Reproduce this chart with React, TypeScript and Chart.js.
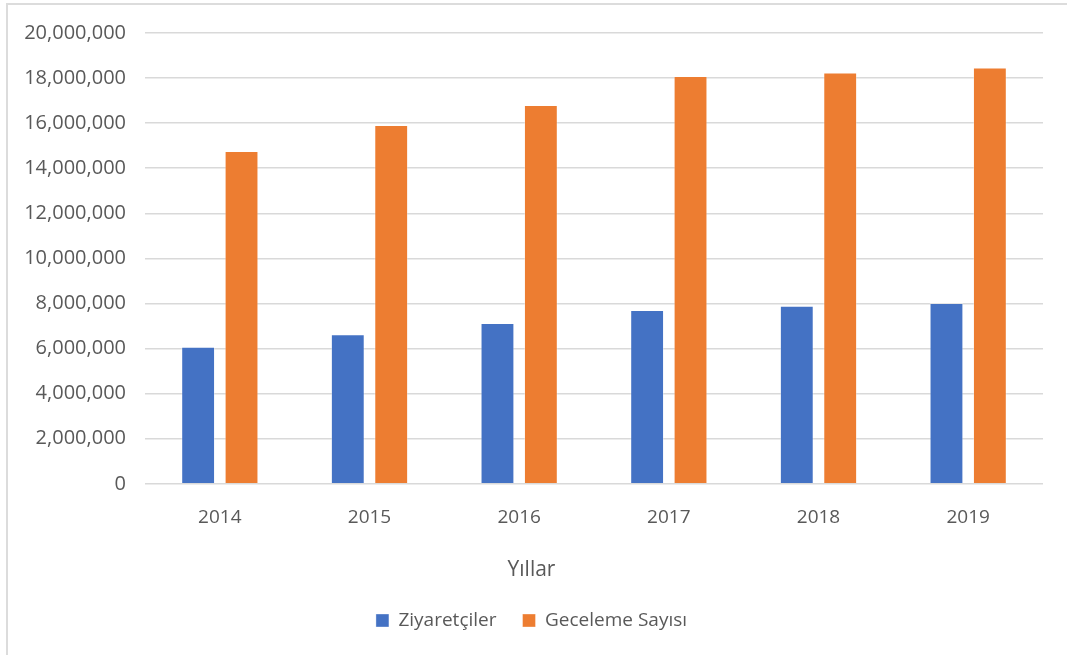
import React, { useEffect, useRef } from "react";
import { Chart, registerables } from "chart.js";

Chart.register(...registerables);

const years = ["2014", "2015", "2016", "2017", "2018", "2019"];
const visitors = [6080000, 6640000, 7130000, 7710000, 7900000, 8020000];
const overnights = [14760000, 15920000, 16810000, 18090000, 18250000, 18470000];
const seriesNames = ["Ziyaretçiler", "Geceleme Sayısı"];
const axisTitle = "Yıllar";
const yMax = 20000000;
const yStep = 2000000;

const FONT = "'Open Sans', 'Noto Sans', sans-serif";
const TEXT = "#595959";

export default function App() {
  const ref = useRef<HTMLCanvasElement | null>(null);

  useEffect(() => {
    document.body.style.margin = "0";
    const canvas = ref.current;
    if (!canvas) return;
    const chart = new Chart(canvas, {
      type: "bar",
      data: {
        labels: years,
        datasets: [
          {
            label: seriesNames[0],
            data: visitors,
            backgroundColor: "#4472C4",
            borderColor: "rgba(255,255,255,0.35)",
            borderWidth: 1,
            categoryPercentage: 0.58,
            barPercentage: 0.78,
          },
          {
            label: seriesNames[1],
            data: overnights,
            backgroundColor: "#ED7D31",
            borderColor: "rgba(255,255,255,0.35)",
            borderWidth: 1,
            categoryPercentage: 0.58,
            barPercentage: 0.78,
          },
        ],
      },
      options: {
        responsive: false,
        animation: false,
        layout: { padding: { left: 20, right: 24, top: 33, bottom: 15 } },
        scales: {
          x: {
            grid: { display: false },
            border: { display: false },
            ticks: { color: TEXT, font: { family: FONT, size: 19 }, padding: 14 },
            afterFit: (s: any) => {
              s.height = 50;
            },
          },
          y: {
            min: 0,
            max: yMax,
            grid: { color: "#d9d9d9", lineWidth: 1.5, drawTicks: false },
            border: { display: false },
            ticks: {
              stepSize: yStep,
              color: TEXT,
              font: { family: FONT, size: 20 },
              padding: 19,
              callback: (v: any) => Number(v).toLocaleString("en-US"),
            },
            afterFit: (s: any) => {
              s.width = 125;
            },
          },
        },
        plugins: {
          title: {
            display: true,
            text: axisTitle,
            position: "bottom",
            weight: 500,
            color: TEXT,
            font: { family: FONT, size: 21, weight: "normal" },
            padding: { top: 24, bottom: 2 },
          } as any,
          legend: {
            position: "bottom",
            labels: {
              color: TEXT,
              font: { family: FONT, size: 19 },
              boxWidth: 13,
              boxHeight: 13,
              padding: 26,
            },
          },
          tooltip: { enabled: false },
        },
      },
    });
    return () => chart.destroy();
  }, []);

  return (
    <div
      style={{
        position: "fixed",
        left: 0,
        top: 0,
        width: 1067,
        height: 655,
        background: "#fff",
        overflow: "hidden",
      }}
    >
      <div
        style={{
          position: "absolute",
          left: 6,
          top: 3,
          width: 1200,
          height: 800,
          border: "2px solid #dcdcdc",
        }}
      />
      <canvas
        ref={ref}
        width={1067}
        height={655}
        style={{ position: "absolute", left: 0, top: 0, display: "block" }}
      />
    </div>
  );
}
